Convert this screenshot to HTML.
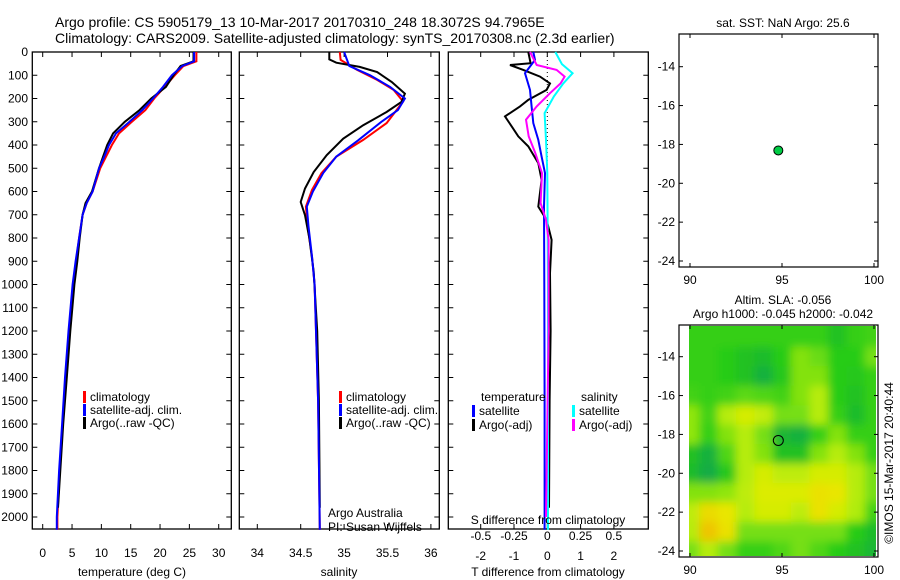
<!DOCTYPE html>
<html><head><meta charset="utf-8"><style>
body{margin:0;background:#fff}
svg{display:block;font-family:"Liberation Sans",sans-serif}
</style></head><body>
<svg id="c" width="900" height="580" viewBox="0 0 900 580">
<text x="55" y="27" font-size="14">Argo profile: CS 5905179_13 10-Mar-2017 20170310_248 18.3072S 94.7965E</text>
<text x="55" y="43" font-size="14">Climatology: CARS2009. Satellite-adjusted climatology: synTS_20170308.nc (2.3d earlier)</text>
</svg>
<script>
// ---------- data ----------
const depthTicks=[0,100,200,300,400,500,600,700,800,900,1000,1100,1200,1300,1400,1500,1600,1700,1800,1900,2000];
const tempTicks=[0,5,10,15,20,25,30];
const salTicks=[34,34.5,35,35.5,36];
const tdiffTicks=[-2,-1,0,1,2];
const sdiffTicks=[-0.5,-0.25,0,0.25,0.5];
const sdiffLabels=["-0.5","-0.25","0","0.25","0.5"];

const tClimDepth=[0,40,60,100,150,200,250,300,350,400,450,500,600,650,700,800,900,1000,1200,1400,1600,1800,2000,2055];
const tClim=[26.2,26.2,24,22.5,20.8,19,17.5,15.2,13,11.8,10.8,9.8,8.5,7.5,6.8,6.2,5.7,5.2,4.5,3.9,3.4,2.9,2.5,2.5];
const tSat=[25.8,25.8,23.8,22,20.5,18.8,17,14.8,12.5,11.3,10.5,9.6,8.5,7.5,6.8,6.2,5.6,5.1,4.4,3.8,3.3,2.8,2.4,2.4];
const tArgoDepth=[0,40,60,100,150,200,250,300,350,400,450,500,600,650,700,800,900,1000,1200,1400,1600,1800,1960];
const tArgo=[25.7,25.7,23.5,22.3,21,18.5,16.5,14,12,11,10.3,9.6,8.4,7.3,6.8,6.3,5.9,5.4,4.7,4.1,3.5,3.0,2.6];

const sClimDepth=[0,34,77,120,163,213,306,378,450,521,593,665,751,880,1000,1500,2055];
const sClim=[34.95,34.96,35.15,35.38,35.57,35.68,35.49,35.22,34.91,34.74,34.63,34.56,34.58,34.63,34.66,34.7,34.72];
const sSatDepth=[0,60,100,150,200,250,300,380,450,520,600,665,750,880,1000,1500,2055];
const sSat=[35.0,35.06,35.3,35.53,35.7,35.62,35.43,35.16,34.91,34.76,34.64,34.57,34.59,34.63,34.66,34.7,34.72];
const sArgoDepth=[0,32,46,64,86,129,179,215,258,315,373,444,516,587,645,702,802,946,1200,1500,1960];
const sArgo=[34.83,34.83,34.91,35.18,35.38,35.55,35.7,35.66,35.49,35.22,34.99,34.8,34.65,34.55,34.5,34.55,34.6,34.65,34.69,34.71,34.72];

const dTSatDepth=[0,34,91,163,234,306,378,450,521,665,1000,1500,2055];
const dTSat=[-0.42,-0.37,-0.67,-0.52,-0.47,-0.42,-0.27,-0.17,-0.07,-0.1,-0.09,-0.08,-0.08];
const dTArgoDepth=[0,48,56,77,106,135,163,206,234,277,320,363,406,478,550,665,722,808,951,1200,1500,1960];
const dTArgo=[-0.57,-0.5,-1.12,-0.72,-0.22,0.08,-0.02,-0.57,-0.82,-1.27,-1.07,-0.87,-0.57,-0.27,-0.17,-0.27,-0.02,0.13,0.08,0.1,0.07,0.05];
const dSSatDepth=[0,52,91,135,191,263,378,521,1000,2055];
const dSSat=[0.06,0.11,0.19,0.12,0.05,-0.02,-0.01,0,0.005,0.005];
const dSArgoDepth=[0,56,77,106,135,177,234,291,363,435,521,650,722,808,1200,1600,2000];
const dSArgo=[-0.13,-0.08,0.07,0.13,0.1,0.02,-0.08,-0.16,-0.14,-0.09,-0.04,-0.05,-0.01,0.01,0.01,0,-0.01];

const mapLonTicks=[90,95,100];
const mapLatTicks=[-14,-16,-18,-20,-22,-24];
const floatLon=[94.8];
const floatLat=[-18.31];
// SLA field, rows lat -13..-24, cols lon 90..100 (level units)
const slaLats=[-13,-14,-15,-16,-17,-18,-19,-20,-21,-22,-23,-24];
const slaLons=[90,91,92,93,94,95,96,97,98,99,100];
const slaGrid=[
[1.1,1.1,1.1,1.1,1.1,1.1,1.1,1.1,0.8,1.1,1.2],
[1.1,1.1,1,0.8,0.7,1,1.7,1.5,1,1,1.6],
[1.1,1.1,1,0.8,0.5,0.9,1.7,1.7,1,0.9,1.1],
[1.2,1.1,1.2,1.4,1.3,1.2,1.7,2.2,1,0.8,1.1],
[1.8,1.2,2.2,2.7,2.4,1.6,1.6,2.2,1.1,0.7,1.1],
[1.8,1.1,1.7,2.2,1.6,0.6,0.5,1.1,1.7,1.1,1.1],
[0.8,0.5,1.3,2.2,1.7,0.8,0.8,1.7,2.2,1.7,1.1],
[0.7,0.4,0.9,2.2,2.7,2.3,2.3,2.7,2.7,2.2,1.6],
[1.7,1.7,1.8,2.3,2.8,2.8,2.8,3.2,3.1,2.2,1.6],
[2.3,3.3,3.1,2.2,2.7,2.7,2.3,3.2,2.7,2.1,1.2],
[2.2,3.7,3.2,1.6,1.6,1.6,1.6,1.6,1.6,1,0.7],
[1.6,2.2,1.6,1.1,1.1,1.3,1.6,1.3,1,0.8,0.6]];

// ---------- helpers ----------
const svg=document.getElementById('c');
const NS='http://www.w3.org/2000/svg';
function mk(tag,at,parent){const e=document.createElementNS(NS,tag);for(const k in at)e.setAttribute(k,at[k]);(parent||svg).appendChild(e);return e;}
function txt(x,y,s,anchor,size,parent){const t=mk('text',{x:x,y:y,'font-size':size||12,'text-anchor':anchor||'start'},parent);t.textContent=s;return t;}

const TOP=52,BOT=529;
const yD=d=>TOP+d*0.2325;
const xT=t=>42.7+t*5.867;
const xS=s=>257.3+(s-34)*86.8;
const xDT=t=>547.3+t*33.3;
const xDS=s=>547.3+s*133;

function frame(x0,x1,name){
  const r=mk('rect',{x:x0,y:TOP,width:x1-x0,height:BOT-TOP,fill:'none',stroke:'#000','stroke-width':1.3});
  
  
  depthTicks.forEach(d=>{
    const t1=mk('line',{x1:x0,x2:x0+5,y1:yD(d),y2:yD(d),stroke:'#000'});
    
    
    mk('line',{x1:x1,x2:x1-5,y1:yD(d),y2:yD(d),stroke:'#000'});
  });
}
function xticks(ticks,fx,labels,ly,name){
  ticks.forEach((v,i)=>{
    const x=fx(v);
    mk('line',{x1:x,x2:x,y1:BOT,y2:BOT-5,stroke:'#000'});
    mk('line',{x1:x,x2:x,y1:TOP,y2:TOP+5,stroke:'#000'});
    if(labels){const t=txt(x,ly,labels[i],'middle',12);
      
      }
  });
}
function line(ds,vs,fx,color,w,name){
  const pts=ds.map((d,i)=>fx(vs[i]).toFixed(1)+','+yD(d).toFixed(1)).join(' ');
  const p=mk('polyline',{points:pts,fill:'none',stroke:color,'stroke-width':w,'stroke-linejoin':'miter'});
  
  
}
function legend(x,y,color,label,name){
  const r=mk('rect',{x:x,y:y-10,width:3,height:12,fill:color});
  
  
  const t=txt(x+7,y,label,'start',12);
  
  
}

// ---------- panel 1: temperature ----------
frame(32.3,231.3,'temperature-panel');
depthTicks.forEach(d=>{const t=txt(28,yD(d)+4,String(d),'end',12);
  
  });
xticks(tempTicks,xT,tempTicks.map(String),557,'temperature-tick-label');
line(tClimDepth,tClim,xT,'#f00',2,'temp-climatology-line');
line(tArgoDepth,tArgo,xT,'#000',2,'temp-argo-line');
line(tClimDepth,tSat,xT,'#00f',2,'temp-satellite-line');
{const t=txt(132,576,'temperature (deg C)','middle',12);

}
legend(83,401,'#f00','climatology','legend-climatology');
legend(83,414,'#00f','satellite-adj. clim.','legend-satellite');
legend(83,427,'#000','Argo(..raw -QC)','legend-argo');

// ---------- panel 2: salinity ----------
frame(239.3,439.3,'salinity-panel');
xticks(salTicks,xS,salTicks.map(String),557,'salinity-tick-label');
line(sClimDepth,sClim,xS,'#f00',2,'sal-climatology-line');
line(sArgoDepth,sArgo,xS,'#000',2,'sal-argo-line');
line(sSatDepth,sSat,xS,'#00f',2,'sal-satellite-line');
{const t=txt(339,576,'salinity','middle',12);

}
legend(339,401,'#f00','climatology','legend-sal-climatology');
legend(339,414,'#00f','satellite-adj. clim.','legend-sal-satellite');
legend(339,427,'#000','Argo(..raw -QC)','legend-sal-argo');
{const t=txt(328,517,'Argo Australia','start',12);
const u=txt(328,531,'PI: Susan Wijffels','start',12);}

// ---------- panel 3: differences ----------
frame(448.3,648.3,'difference-panel');
xticks(tdiffTicks,xDT,tdiffTicks.map(String),560,'tdiff-tick-label');
sdiffTicks.forEach((v,i)=>{const t=txt(xDS(v),540,sdiffLabels[i],'middle',12);
  
  });
mk('line',{x1:xDT(0),x2:xDT(0),y1:TOP,y2:yD(600),stroke:'#000','stroke-dasharray':'1,3'});
line(dTArgoDepth,dTArgo,xDT,'#000',2,'tdiff-argo-line');
line(dTSatDepth,dTSat,xDT,'#00f',2,'tdiff-satellite-line');
line(dSSatDepth,dSSat,xDS,'#0ff',2,'sdiff-satellite-line');
line(dSArgoDepth,dSArgo,xDS,'#f0f',2,'sdiff-argo-line');
{const t=txt(481,401,'temperature','start',12);
const u=txt(581,401,'salinity','start',12);}
legend(472,415,'#00f','satellite','legend-t-satellite');
legend(472,429,'#000','Argo(-adj)','legend-t-argo');
legend(572,415,'#0ff','satellite','legend-s-satellite');
legend(572,429,'#f0f','Argo(-adj)','legend-s-argo');
{const t=txt(548,524,'S difference from climatology','middle',12);
const u=txt(548,576,'T difference from climatology','middle',12);}

// ---------- maps ----------
const mx=lon=>690+(lon-90)*18.4;
function mapAxes(y0,y1,latToY,name){
  const r=mk('rect',{x:679,y:y0,width:199,height:y1-y0,fill:'none',stroke:'#000','stroke-width':1.2});
  
  
  mapLonTicks.forEach(v=>{const x=mx(v);
    mk('line',{x1:x,x2:x,y1:y1,y2:y1-4,stroke:'#000'});
    mk('line',{x1:x,x2:x,y1:y0,y2:y0+4,stroke:'#000'});
    const t=txt(x,y1+17,String(v),'middle',12);
    
    });
  mapLatTicks.forEach(v=>{const y=latToY(v);
    mk('line',{x1:679,x2:683,y1:y,y2:y,stroke:'#000'});
    mk('line',{x1:878,x2:874,y1:y,y2:y,stroke:'#000'});
    const t=txt(675,y+4,String(v),'end',12);
    
    });
}
const my1=lat=>66.7+(-14-lat)*19.43;
const my2=lat=>356.7+(-14-lat)*19.43;

// top map
{const t=txt(783,27,'sat. SST: NaN Argo: 25.6','middle',12);}
mapAxes(34,267,my1,'sst-map');
{const c=mk('circle',{cx:mx(floatLon[0]),cy:my1(floatLat[0]),r:4.5,fill:'#0c4',stroke:'#000','stroke-width':1});
}

// bottom map heatmap
function col(v){
  const stops=[[0,[10,150,100]],[1,[40,204,20]],[2,[170,236,16]],[3,[232,236,0]],[4,[240,180,0]]];
  v=Math.max(0,Math.min(4,v));const i=Math.min(3,Math.floor(v)),f=v-i;
  const a=stops[i][1],b=stops[i+1][1];
  return 'rgb('+a.map((x,k)=>Math.round(x+(b[k]-x)*f)).join(',')+')';
}
const defs=mk('defs',{});
const clip=mk('clipPath',{id:'mc'},defs);
mk('rect',{x:689,y:326,width:187,height:230},clip);
const flt=mk('filter',{id:'bl',x:'-10%',y:'-10%',width:'120%',height:'120%'},defs);
mk('feGaussianBlur',{stdDeviation:4.5},flt);
const hg=mk('g',{'clip-path':'url(#mc)'});


const inner=mk('g',{filter:'url(#bl)'},hg);
const cw=18.4,ch=19.43;
slaLats.forEach((lat,r)=>slaLons.forEach((lon,c)=>{
  const x=mx(lon)-cw/2,y=my2(lat)-ch/2;
  let w=cw+1,h=ch+1,xx=x,yy=y;
  if(c===0){xx-=20;w+=20;} if(c===slaLons.length-1)w+=20;
  if(r===0){yy-=25;h+=25;} if(r===slaLats.length-1)h+=25;
  const cell=mk('rect',{x:xx,y:yy,width:w,height:h,fill:col(slaGrid[r][c])},inner);
  
  
}));
{const t=txt(783,304,'Altim. SLA: -0.056','middle',12);
const u=txt(783,318,'Argo h1000: -0.045 h2000: -0.042','middle',12);}
mapAxes(325,557,my2,'sla-map');
{const c=mk('circle',{cx:mx(floatLon[0]),cy:my2(floatLat[0]),r:5,fill:'none',stroke:'#000','stroke-width':1});
}
{const t=txt(0,0,'©IMOS 15-Mar-2017 20:40:44','middle',12);
t.setAttribute('transform','translate(893,463) rotate(-90)');
}
</script>
</body></html>
